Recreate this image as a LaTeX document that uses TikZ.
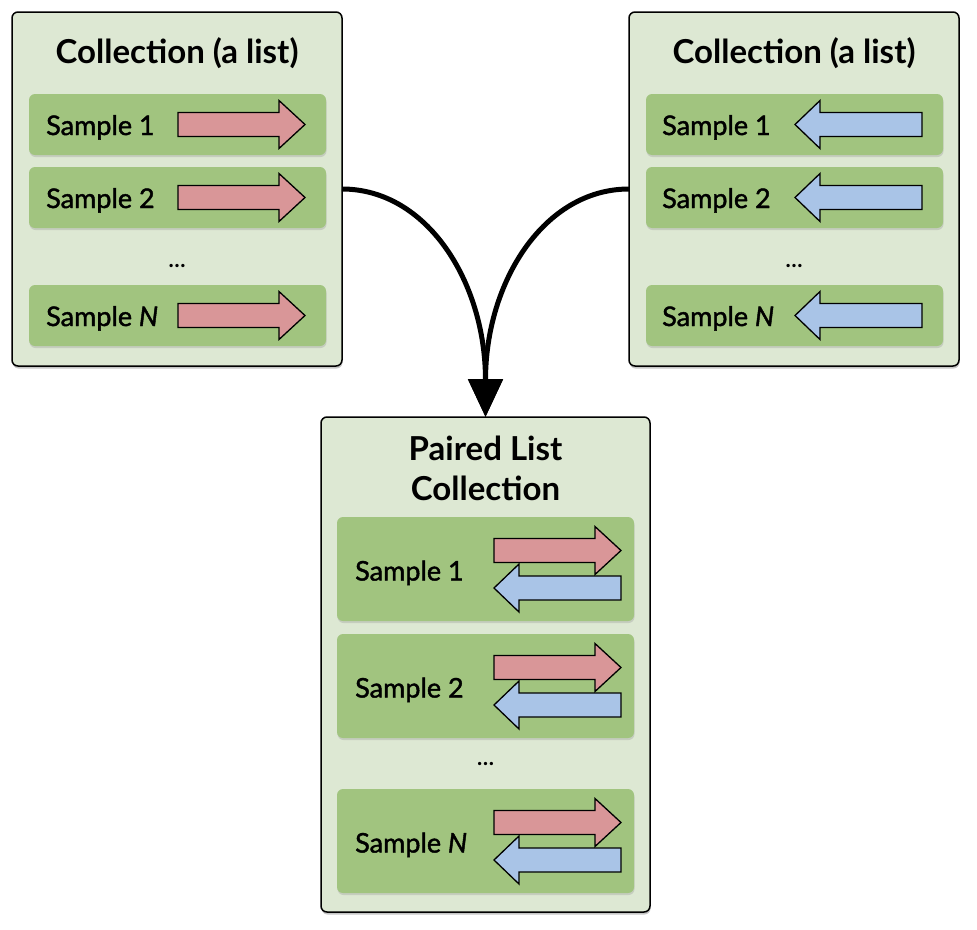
\documentclass[tikz,border=0pt]{standalone}
\usepackage{fontspec}
\setmainfont{Lato}
\newfontfamily\samplefont[FakeBold=1.6]{Lato}
\usetikzlibrary{shadows,arrows.meta}
\definecolor{outerf}{HTML}{DDE8D3}
\definecolor{innerf}{HTML}{A1C47F}
\definecolor{redf}{HTML}{D99698}
\definecolor{bluef}{HTML}{A9C4E7}
\tikzset{
  outerbox/.style={draw=black, line width=1.5pt, fill=outerf, rounded corners=6pt,
    drop shadow={shadow xshift=0.5pt, shadow yshift=-2.5pt, opacity=0.45}},
  innerbox/.style={fill=innerf, rounded corners=6pt,
    drop shadow={shadow xshift=0.5pt, shadow yshift=-2pt, opacity=0.25}},
  arrowshape/.style={draw=black, line width=1.3pt, line join=miter},
  titletext/.style={font=\fontsize{33}{40}\selectfont\bfseries, align=center},
  sampletext/.style={font=\fontsize{27}{30}\selectfont\samplefont, anchor=base west, inner sep=0pt},
  dotstext/.style={font=\fontsize{22}{26}\selectfont\bfseries},
  conn/.style={line width=5pt, -{Triangle[length=38pt,width=34pt]}},
  rarr/.pic={\draw[arrowshape, fill=redf] (0,-12) -- (101,-12) -- (101,-24) -- (127,0) -- (101,24) -- (101,12) -- (0,12) -- cycle;},
  larr/.pic={\draw[arrowshape, fill=bluef] (0,0) -- (25,-24) -- (25,-12) -- (127,-12) -- (127,12) -- (25,12) -- (25,24) -- cycle;}
}
\begin{document}
\begin{tikzpicture}[x=1pt,y=-1pt]
\useasboundingbox (0,0) rectangle (977,929);
% outer boxes
\path[outerbox] (12,12) rectangle (342,366);
\path[outerbox] (629,12) rectangle (959,366);
\path[outerbox] (321,417) rectangle (650,912);
\coordinate (L) at (342,189);
\coordinate (R) at (629,189);
\coordinate (P) at (485.5,417);
% titles
\node[titletext] (lt) at (177,53) {Collection (a list)};
\node[titletext] (rt) at (794,53) {Collection (a list)};
\node[titletext] (pt) at (485.5,468) {Paired List\\Collection};
% left and right inner
\foreach \y/\lab [count=\i] in {124.5/1, 197.5/2, 315.5/{\itshape N}} {
  \path[innerbox] (29,\y-30.5) rectangle (326,\y+30.5);
  \node[sampletext] (ls\i) at (46,\y+10.5) {Sample \lab};
  \pic at (178,\y) {rarr};
  \path[innerbox] (646,\y-30.5) rectangle (943,\y+30.5);
  \node[sampletext] (rs\i) at (662,\y+10.5) {Sample \lab};
  \pic at (795,\y) {larr};
}
\node[dotstext] (ld) at (177,266) {\dots};
\node[dotstext] (rd) at (794,266) {\dots};
% paired inner
\foreach \y/\lab [count=\i] in {569/1, 686/2, 841/{\itshape N}} {
  \path[innerbox] (337,\y-52) rectangle (634,\y+52);
  \node[sampletext] (ps\i) at (355,\y+11.5) {Sample \lab};
  \pic at (494,\y-18.5) {rarr};
  \pic at (494,\y+19) {larr};
}
\node[dotstext] (pd) at (485.5,764) {\dots};
% connectors
\draw[conn] (L) .. controls +(85,0) and +(0,-135) .. (P);
\draw[conn] (R) .. controls +(-85,0) and +(0,-135) .. (P);
\end{tikzpicture}
\end{document}
